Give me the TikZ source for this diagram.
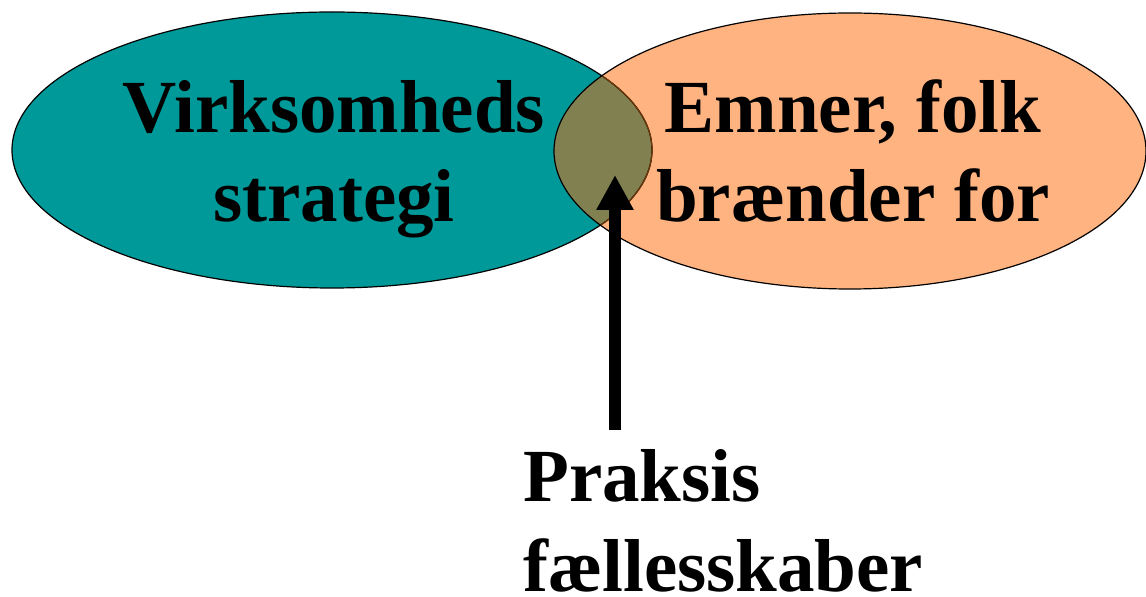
\documentclass[tikz,border=0pt]{standalone}
\usepackage{fontspec}
\setmainfont{Liberation Serif}
\usepackage{tikz}
\usetikzlibrary{arrows.meta}

\definecolor{teal}{RGB}{0,153,153}
\definecolor{abrikos}{RGB}{255,179,128}
\definecolor{oliven}{RGB}{128,128,80}
\definecolor{brunkant}{RGB}{110,55,10}

\tikzset{
	tekst/.style={font=\bfseries\fontsize{75}{89}\selectfont, inner sep=0pt},
	pil/.style={line width=12pt, -{Triangle[length=35pt,width=35pt]}}
}

\begin{document}
\begin{tikzpicture}[x=1pt, y=1pt]
					\def\venstre{(332,447) ellipse [x radius=320, y radius=138]}
					\def\hoejre{(850,446) ellipse [x radius=296, y radius=138]}

					\useasboundingbox (0,0) rectangle (1146,597);

					\begin{scope}
						\fill[teal] \venstre;
						\fill[abrikos] \hoejre;
						\begin{scope}
							\clip \venstre;
							\fill[oliven] \hoejre;
						\end{scope}
					\end{scope}

					\begin{scope}[line width=1.2pt]
						\draw \venstre;
						\begin{scope}
							\clip \hoejre;
							\draw[brunkant] \venstre;
						\end{scope}
						\draw \hoejre;
					\end{scope}

					\begin{scope}
						\node[tekst, align=center, anchor=base] (strategi) at (334,375) {Virksomheds\\strategi};
						\node[tekst, align=center, anchor=base] (emner) at (853,375) {Emner, folk\\brænder for};
						\node[tekst, align=left, anchor=base west, font=\bfseries\fontsize{75}{91}\selectfont] (praksis) at (523,5) {Praksis\\fællesskaber};
					\end{scope}

					\coordinate (fod) at (615,167);
					\coordinate (spids) at (615,422);
					\draw[pil] (fod) -- (spids);
				\end{tikzpicture}
\end{document}
